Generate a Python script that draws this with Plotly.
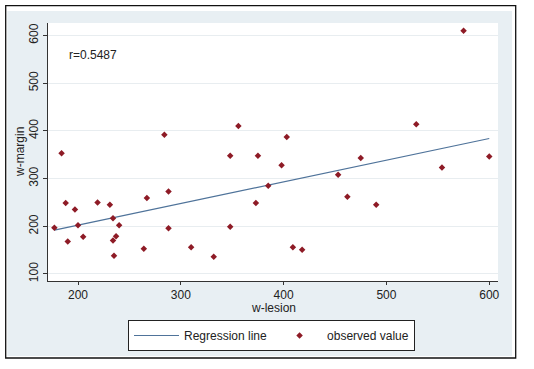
import plotly.graph_objects as go

# Observed values
w_lesion = [177, 184, 188, 190, 197, 200, 205, 219, 231, 234, 234, 235, 237, 240,
            264, 267, 284, 288, 288, 310, 332, 348, 348, 356, 373, 375, 385, 398,
            403, 409, 418, 453, 462, 475, 490, 529, 554, 575, 600]
w_margin = [197, 353, 249, 168, 235, 202, 178, 250, 245, 217, 170, 138, 179, 202,
            153, 259, 392, 196, 273, 156, 136, 348, 199, 410, 249, 348, 285, 328,
            387, 156, 151, 308, 262, 343, 245, 414, 323, 610, 346]

# Regression line endpoints
fit_x = [177, 600]
fit_y = [192, 384]

x_ticks = [200, 300, 400, 500, 600]
y_ticks = [100, 200, 300, 400, 500, 600]
r_label = "r=0.5487"

W, H = 534, 369
L, R, T, B = 48, 498, 23, 281
pw, ph = R - L, B - T


def px(x):
    return (x - L) / pw


def py(y):
    return (B - y) / ph


fig = go.Figure()
fig.add_trace(go.Scatter(x=fit_x, y=fit_y, mode="lines", name="Regression line",
                         line=dict(color="#4f739a", width=1.2)))
fig.add_trace(go.Scatter(x=w_lesion, y=w_margin, mode="markers", name="observed value",
                         marker=dict(symbol="diamond", size=5, color="#8e1b26")))

shapes = [
    dict(type="rect", xref="paper", yref="paper", x0=px(7.3), x1=px(512), y0=py(11), y1=py(356),
         fillcolor="#e8eff3", line=dict(width=0), layer="below"),
    dict(type="rect", xref="paper", yref="paper", x0=0, x1=1, y0=0, y1=1,
         fillcolor="white", line=dict(width=0), layer="below"),
    dict(type="rect", xref="paper", yref="paper", x0=px(5.7), x1=px(515.7), y0=py(5.7), y1=py(358),
         fillcolor="rgba(0,0,0,0)", line=dict(color="#111111", width=1.3), layer="above"),
]

font = "Liberation Sans, Arial, sans-serif"
fig.update_layout(
    width=W, height=H,
    margin=dict(l=L, r=W - R, t=T, b=H - B),
    paper_bgcolor="white", plot_bgcolor="white",
    font=dict(family=font, size=12, color="#222222"),
    shapes=shapes,
    showlegend=True,
    legend=dict(orientation="h", x=px(271.5), xanchor="center", y=py(320), yanchor="top",
                bgcolor="white", bordercolor="#222222", borderwidth=1,
                font=dict(size=12, color="#222222"), itemwidth=45),
    annotations=[
        dict(text=r_label, x=189, y=559, xref="x", yref="y", xanchor="left", yanchor="middle",
             showarrow=False, font=dict(size=12, color="#222222")),
        dict(text="w-lesion", x=0.5, y=py(308), xref="paper", yref="paper",
             xanchor="center", yanchor="middle", showarrow=False, font=dict(size=12)),
        dict(text="w-margin", x=px(20), y=0.5, xref="paper", yref="paper", textangle=-90,
             xanchor="center", yanchor="middle", showarrow=False, font=dict(size=12)),
    ],
)
fig.update_xaxes(range=[170.8, 608.5], tickvals=x_ticks, showgrid=False, zeroline=False,
                 showline=True, linecolor="#333333", linewidth=1,
                 ticks="outside", ticklen=3, tickcolor="#333333",
                 tickfont=dict(size=12))
fig.update_yaxes(range=[85.3, 626], tickvals=y_ticks, showgrid=True, gridcolor="#e8edf0",
                 gridwidth=1, zeroline=False,
                 showline=True, linecolor="#333333", linewidth=1,
                 ticks="outside", ticklen=4, tickcolor="#333333",
                 tickangle=-90, tickfont=dict(size=12))

fig.write_html("out.html")
